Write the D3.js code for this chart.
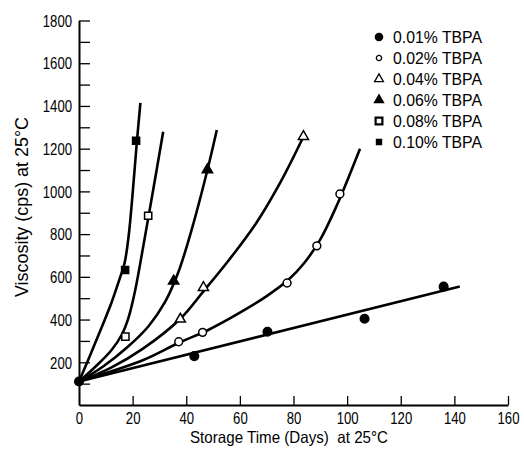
<!DOCTYPE html>
<html>
<head>
<meta charset="utf-8">
<script src="https://cdn.jsdelivr.net/npm/d3@7"></script>
<style>
body { margin: 0; background: #fff; }
svg { display: block; }
.tick text { font-family: "Liberation Sans", Arial, sans-serif; font-size: 16px; fill: #000; }
.axis path, .axis line { stroke: #000; }
.ttl { font-family: "Liberation Sans", Arial, sans-serif; fill: #000; }
.leg { font-family: "Liberation Sans", Arial, sans-serif; font-size: 16px; fill: #000; }
</style>
</head>
<body>
<div id="chart"></div>
<script>
// tick values
var xTicks = [0, 20, 40, 60, 80, 100, 120, 140, 160];
var yMajor = [200, 400, 600, 800, 1000, 1200, 1400, 1600, 1800];
var yMinor = [100, 300, 500, 700, 900, 1100, 1300, 1500, 1700];

var seriesLabels = ["0.01% TBPA", "0.02% TBPA", "0.04% TBPA", "0.06% TBPA", "0.08% TBPA", "0.10% TBPA"];

// measured points [days, cps]
var pts001 = [[0, 110], [43, 229], [70.3, 343], [106.5, 404], [136, 554]];
var pts002 = [[37.2, 296], [46.1, 340], [77.6, 571], [88.7, 745], [97.3, 988]];
var pts004 = [[37.8, 402], [46.4, 550], [83.7, 1257]];
var pts006 = [[35.3, 580], [47.9, 1101]];
var pts008 = [[17.3, 320], [25.8, 886]];
var pts010 = [[17.2, 632], [21.3, 1237]];

// drawn curves
var fit001 = [[0, 110], [142, 555]];
var fit002 = [[0, 110], [24, 211], [37, 290], [48, 350], [60, 432], [70, 510], [78, 585], [84, 665], [90, 775], [96, 930], [104.8, 1200]];
var fit004 = [[0, 110], [12, 175], [24, 265], [37.9, 405], [46.4, 532], [56, 680], [66, 850], [75, 1040], [83.7, 1256]];
var fit006 = [[0, 110], [9, 180], [18, 270], [26, 370], [32, 480], [37, 620], [42, 820], [47.9, 1100], [51.4, 1287]];
var fit008 = [[0, 110], [6, 178], [12, 255], [16, 330], [18.5, 410], [21, 540], [24, 745], [27.5, 995], [31.4, 1279]];
var fit010 = [[0, 110], [4, 228], [8, 350], [12, 475], [15, 585], [17, 665], [18.5, 790], [20, 990], [21.5, 1220], [22.9, 1414]];

var W = 524, H = 449;
var svg = d3.select("#chart").append("svg").attr("width", W).attr("height", H);

var x = d3.scaleLinear().domain([0, 160]).range([79, 508]);
var y = d3.scaleLinear().domain([0, 1800]).range([405, 20.5]);

// squeeze labels to the narrow face of the original
function narrow(sel, per) {
    sel.each(function () {
        var t = d3.select(this);
        t.attr("textLength", t.text().length * per).attr("lengthAdjust", "spacingAndGlyphs");
    });
}

// y axis: minor ticks then labelled ticks
svg.append("g").attr("class", "axis").attr("transform", "translate(79,0)")
    .call(d3.axisLeft(y).tickValues(yMinor).tickSizeInner(-11).tickSizeOuter(0).tickFormat(""))
    .call(function (g) { g.select(".domain").remove(); g.selectAll("line").attr("stroke-width", 1.3); });
svg.append("g").attr("class", "axis").attr("transform", "translate(79,0)")
    .call(d3.axisLeft(y).tickValues(yMajor).tickSizeInner(-11).tickSizeOuter(0).tickPadding(7).tickFormat(d3.format("d")))
    .call(function (g) {
        g.select(".domain").attr("stroke-width", 2);
        g.selectAll("line").attr("stroke-width", 1.3);
        g.selectAll("text").attr("dy", "0.36em").call(narrow, 7.3);
    });

// x axis, ticks point up
svg.append("g").attr("class", "axis").attr("transform", "translate(0,405)")
    .call(d3.axisBottom(x).tickValues(xTicks).tickSizeInner(-9).tickSizeOuter(0).tickPadding(8).tickFormat(d3.format("d")))
    .call(function (g) {
        g.select(".domain").attr("stroke-width", 2);
        g.selectAll("line").attr("stroke-width", 1.3);
        g.selectAll(".tick").filter(function (d) { return d === 0; }).select("line").remove();
        g.selectAll("text").call(narrow, 7.3);
    });

// titles
svg.append("text").attr("class", "ttl").attr("x", 289).attr("y", 443)
    .attr("text-anchor", "middle").style("font-size", "16.5px")
    .attr("textLength", 198).attr("lengthAdjust", "spacingAndGlyphs")
    .text("Storage Time (Days)\u00a0\u00a0at 25\u00b0C");
svg.append("text").attr("class", "ttl").attr("transform", "translate(27.5,207) rotate(-90)")
    .attr("text-anchor", "middle").style("font-size", "17.5px")
    .attr("textLength", 180).attr("lengthAdjust", "spacingAndGlyphs")
    .text("Viscosity (cps) at 25\u00b0C");

// curves
var line = d3.line()
    .x(function (d) { return x(d[0]); })
    .y(function (d) { return y(d[1]); })
    .curve(d3.curveCatmullRom.alpha(0.5));

var fits = [fit001, fit002, fit004, fit006, fit008, fit010];
svg.append("g").selectAll("path").data(fits).enter().append("path")
    .attr("d", line)
    .attr("fill", "none").attr("stroke", "#000").attr("stroke-width", 2.6);

// markers
var marks = [
    { pts: pts001, type: d3.symbolCircle, size: 58, fill: "#000" },
    { pts: pts002, type: d3.symbolCircle, size: 48, fill: "#fff" },
    { pts: pts004, type: d3.symbolTriangle, size: 44, fill: "#fff" },
    { pts: pts006, type: d3.symbolTriangle, size: 46, fill: "#000" },
    { pts: pts008, type: d3.symbolSquare, size: 52, fill: "#fff" },
    { pts: pts010, type: d3.symbolSquare, size: 50, fill: "#000" }
];

marks.forEach(function (m) {
    svg.append("g").selectAll("path").data(m.pts).enter().append("path")
        .attr("transform", function (d) { return "translate(" + x(d[0]) + "," + y(d[1]) + ")"; })
        .attr("d", d3.symbol().type(m.type).size(m.size))
        .attr("fill", m.fill).attr("stroke", "#000").attr("stroke-width", 1.5);
});

// legend
var legSize = [42, 22, 34, 36, 46, 26];
var leg = svg.append("g").attr("transform", "translate(379,37)");
var rows = leg.selectAll("g").data(seriesLabels).enter().append("g")
    .attr("transform", function (d, i) { return "translate(0," + (i * 21) + ")"; });
rows.append("path")
    .attr("d", function (d, i) { return d3.symbol().type(marks[i].type).size(legSize[i])(); })
    .attr("fill", function (d, i) { return marks[i].fill; })
    .attr("stroke", "#000").attr("stroke-width", function (d, i) { return i === 4 ? 2.2 : 1.3; });
rows.append("text").attr("class", "leg").attr("x", 14).attr("y", 6)
    .attr("textLength", 89).attr("lengthAdjust", "spacingAndGlyphs")
    .text(function (d) { return d; });
</script>
</body>
</html>
